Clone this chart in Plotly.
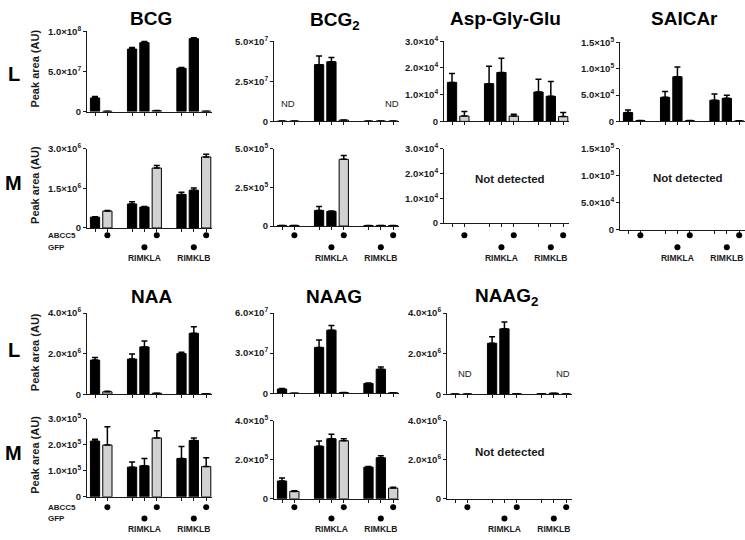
import math
import plotly.graph_objects as go

W, H = 745, 540

# ---------------- data ----------------
slots = [0, 1, 3, 4, 5, 7, 8, 9]          # bar positions (gaps between groups)
abcc5 = [0, 1, 0, 0, 1, 0, 0, 1]          # ABCC5 indicator row
gfp = [0, 0, 0, 1, 0, 0, 1, 0]            # GFP indicator row
group_labels = ["RIMKLA", "RIMKLB"]
group_label_slots = [4, 8]

bcg_L_mean = [1.7e7, 0.05e7, 7.8e7, 8.6e7, 0.12e7, 5.4e7, 9.1e7, 0.06e7]
bcg_L_sd = [0.2e7, 0.0, 0.2e7, 0.15e7, 0.02e7, 0.1e7, 0.1e7, 0.0]
bcg_L_ticks = [0, 5e7, 1e8]

bcg_M_mean = [0.41e6, 0.64e6, 0.91e6, 0.79e6, 2.27e6, 1.27e6, 1.43e6, 2.69e6]
bcg_M_sd = [0.02e6, 0.02e6, 0.08e6, 0.02e6, 0.10e6, 0.08e6, 0.08e6, 0.10e6]
bcg_M_ticks = [0, 1.5e6, 3e6]

bcg2_L_mean = [0.02e7, 0.02e7, 3.54e7, 3.72e7, 0.08e7, 0.02e7, 0.03e7, 0.02e7]
bcg2_L_sd = [0, 0, 0.54e7, 0.26e7, 0.01e7, 0, 0, 0]
bcg2_L_ticks = [0, 2.5e7, 5e7]

bcg2_M_mean = [0.04e5, 0.04e5, 1.01e5, 0.95e5, 4.32e5, 0.03e5, 0.04e5, 0.03e5]
bcg2_M_sd = [0, 0, 0.25e5, 0.02e5, 0.25e5, 0, 0, 0]
bcg2_M_ticks = [0, 2.5e5, 5e5]

agg_L_mean = [1.46e4, 0.20e4, 1.41e4, 1.83e4, 0.20e4, 1.10e4, 0.94e4, 0.18e4]
agg_L_sd = [0.33e4, 0.17e4, 0.65e4, 0.53e4, 0.07e4, 0.48e4, 0.55e4, 0.15e4]
agg_ticks = [0, 1e4, 2e4, 3e4]

saic_L_mean = [0.167e5, 0.015e5, 0.456e5, 0.845e5, 0.015e5, 0.40e5, 0.437e5, 0.01e5]
saic_L_sd = [0.05e5, 0, 0.11e5, 0.185e5, 0, 0.12e5, 0.06e5, 0]
saic_ticks = [0, 5e4, 1e5, 1.5e5]

naa_L_mean = [1.68e6, 0.12e6, 1.73e6, 2.33e6, 0.05e6, 2.0e6, 3.0e6, 0.02e6]
naa_L_sd = [0.13e6, 0.02e6, 0.25e6, 0.29e6, 0, 0.07e6, 0.32e6, 0]
naa_L_ticks = [0, 2e6, 4e6]

naa_M_mean = [2.14e5, 1.99e5, 1.14e5, 1.19e5, 2.26e5, 1.47e5, 2.16e5, 1.16e5]
naa_M_sd = [0.07e5, 0.70e5, 0.20e5, 0.28e5, 0.28e5, 0.46e5, 0.10e5, 0.34e5]
naa_M_ticks = [0, 1e5, 2e5, 3e5]

naag_L_mean = [0.32e7, 0.0, 3.43e7, 4.72e7, 0.05e7, 0.73e7, 1.80e7, 0.03e7]
naag_L_sd = [0.03e7, 0, 0.56e7, 0.35e7, 0, 0.03e7, 0.16e7, 0]
naag_L_ticks = [0, 3e7, 6e7]

naag_M_mean = [0.91e5, 0.38e5, 2.69e5, 3.07e5, 2.97e5, 1.62e5, 2.10e5, 0.55e5]
naag_M_sd = [0.15e5, 0.03e5, 0.27e5, 0.23e5, 0.10e5, 0.03e5, 0.10e5, 0.04e5]
naag_M_ticks = [0, 2e5, 4e5]

naag2_L_mean = [0.01e6, 0.01e6, 2.51e6, 3.22e6, 0.02e6, 0.02e6, 0.05e6, 0.01e6]
naag2_L_sd = [0, 0, 0.32e6, 0.34e6, 0, 0, 0, 0]
naag2_ticks = [0, 2e6, 4e6]

# ---------------- panel layout (pixels) ----------------
AX_W = 125
XR = [-0.65, AX_W / 12.35 - 0.65]

panels = [
    dict(mean=bcg_L_mean, sd=bcg_L_sd, ticks=bcg_L_ticks, x0=87, ytop=25, yzero=107),
    dict(mean=bcg2_L_mean, sd=bcg2_L_sd, ticks=bcg2_L_ticks, x0=274, ytop=35, yzero=117,
         nd=[(0.5, 0.13), (8.9, 0.13)]),
    dict(mean=agg_L_mean, sd=agg_L_sd, ticks=agg_ticks, x0=444, ytop=35, yzero=117),
    dict(mean=saic_L_mean, sd=saic_L_sd, ticks=saic_ticks, x0=620, ytop=36, yzero=117),
    dict(mean=bcg_M_mean, sd=bcg_M_sd, ticks=bcg_M_ticks, x0=87, ytop=145, yzero=226, block=0),
    dict(mean=bcg2_M_mean, sd=bcg2_M_sd, ticks=bcg2_M_ticks, x0=274, ytop=145, yzero=224, block=0),
    dict(mean=None, sd=None, ticks=agg_ticks, x0=444, ytop=145, yzero=221, block=0,
         notdet=(0.53, 0.60)),
    dict(mean=None, sd=None, ticks=saic_ticks, x0=620, ytop=145, yzero=228, block=0,
         notdet=(0.54, 0.64)),
    dict(mean=naa_L_mean, sd=naa_L_sd, ticks=naa_L_ticks, x0=87, ytop=313, yzero=396),
    dict(mean=naag_L_mean, sd=naag_L_sd, ticks=naag_L_ticks, x0=274, ytop=313, yzero=395),
    dict(mean=naag2_L_mean, sd=naag2_L_sd, ticks=naag2_ticks, x0=447, ytop=313, yzero=396,
         nd=[(0.8, 0.16), (8.75, 0.16)]),
    dict(mean=naa_M_mean, sd=naa_M_sd, ticks=naa_M_ticks, x0=87, ytop=421, yzero=501, block=1),
    dict(mean=naag_M_mean, sd=naag_M_sd, ticks=naag_M_ticks, x0=274, ytop=423, yzero=503, block=1),
    dict(mean=None, sd=None, ticks=naag2_ticks, x0=447, ytop=423, yzero=503, block=1,
         notdet=(0.5, 0.6)),
]

# indicator-row helper axes, per block: (top px, row spacing px)
blocks = [(227.35, 12.3), (505.75, 11.5)]

titles = [("BCG", 151, 12), ("BCG<sub>2</sub>", 335, 14), ("Asp-Gly-Glu", 505, 12),
          ("SAICAr", 684, 12), ("NAA", 151, 296), ("NAAG", 334, 296),
          ("NAAG<sub>2</sub>", 506, 297)]
row_labels = [("L", 14, 69), ("M", 14, 180), ("L", 14, 351), ("M", 14, 456)]
ylab_pos = [(35, 63), (35, 182), (35, 353), (35, 458)]
ind_labels = [("ABCC5", 46, 233.5), ("GFP", 46, 246), ("ABCC5", 46, 511.5), ("GFP", 46, 523)]

FONT = "Liberation Sans, Arial, sans-serif"
DARK = "#1a1a1a"


def sci(v):
    if v == 0:
        return "0"
    e = int(math.floor(math.log10(v) + 1e-9))
    m = v / 10 ** e
    return f"{m:.1f}×10<sup>{e}</sup>"


def px2py(p):
    return 1 - p / H


fig = go.Figure()
layout = dict(width=W, height=H, margin=dict(l=0, r=0, t=0, b=0),
              paper_bgcolor="white", plot_bgcolor="rgba(0,0,0,0)",
              showlegend=False, font=dict(family=FONT, color=DARK))
annotations = []

helper_idx = 30
for i, p in enumerate(panels, start=1):
    xn = "xaxis" if i == 1 else f"xaxis{i}"
    yn = "yaxis" if i == 1 else f"yaxis{i}"
    xa, ya = f"x{i}" if i > 1 else "x", f"y{i}" if i > 1 else "y"
    layout[xn] = dict(domain=[p["x0"] / W, min(1.0, (p["x0"] + AX_W) / W)], anchor=ya,
                      range=XR, showgrid=False, zeroline=False, showline=True,
                      linecolor=DARK, linewidth=1, ticks="outside", ticklen=3,
                      tickwidth=1, tickcolor=DARK, tickvals=slots,
                      showticklabels=False, fixedrange=True)
    ymax = p["ticks"][-1]
    layout[yn] = dict(domain=[px2py(p["yzero"]), px2py(p["ytop"])], anchor=xa,
                      range=[0, ymax], showgrid=False, zeroline=False, showline=True,
                      linecolor=DARK, linewidth=1, ticks="outside", ticklen=3,
                      tickwidth=1, tickcolor=DARK, tickvals=p["ticks"],
                      ticktext=[sci(t) for t in p["ticks"]],
                      tickfont=dict(size=9.5, family=FONT, weight="bold", color=DARK),
                      fixedrange=True)
    if p["mean"] is not None:
        colors = ["#d2d2d2" if a else "black" for a in abcc5]
        fig.add_trace(go.Bar(
            x=slots, y=p["mean"], width=0.75, xaxis=xa, yaxis=ya,
            marker=dict(color=colors, line=dict(color="black", width=1)),
            error_y=dict(type="data", symmetric=False, array=p["sd"],
                         arrayminus=[0] * len(slots), color="black",
                         thickness=1.5, width=3),
            hoverinfo="skip"))
    else:
        fig.add_trace(go.Scatter(x=slots, y=[None] * len(slots), xaxis=xa, yaxis=ya,
                                 mode="markers", hoverinfo="skip"))
        fx, fy = p["notdet"]
        annotations.append(dict(text="Not detected", xref=f"{xa} domain", yref=f"{ya} domain",
                                x=fx, y=fy, showarrow=False,
                                font=dict(size=11.5, family=FONT, weight="bold", color=DARK)))
    for (sx, fy) in p.get("nd", []):
        annotations.append(dict(text="ND", xref=xa, yref=f"{ya} domain", x=sx, y=fy,
                                showarrow=False,
                                font=dict(size=9.5, family=FONT, color=DARK)))
    if "block" in p:
        top, s = blocks[p["block"]]
        helper_idx += 1
        hy = f"y{helper_idx}"
        layout[f"yaxis{helper_idx}"] = dict(
            domain=[px2py(top + 2.9 * s), px2py(top)], anchor=xa, range=[3.4, 0.5],
            visible=False, fixedrange=True)
        fig.add_trace(go.Scatter(
            x=[s_ for s_, a in zip(slots, abcc5) if a], y=[1] * sum(abcc5),
            xaxis=xa, yaxis=hy, mode="markers", cliponaxis=False,
            marker=dict(color="black", size=6), hoverinfo="skip"))
        fig.add_trace(go.Scatter(
            x=[s_ for s_, g in zip(slots, gfp) if g], y=[2] * sum(gfp),
            xaxis=xa, yaxis=hy, mode="markers", cliponaxis=False,
            marker=dict(color="black", size=6), hoverinfo="skip"))
        fig.add_trace(go.Scatter(
            x=group_label_slots, y=[3] * len(group_labels), text=group_labels,
            xaxis=xa, yaxis=hy, mode="text", cliponaxis=False,
            textfont=dict(size=8.5, family=FONT, weight="bold", color=DARK),
            hoverinfo="skip"))

for t, x, y in titles:
    annotations.append(dict(text=t, xref="paper", yref="paper", x=x / W, y=px2py(y),
                            showarrow=False, xanchor="center", yanchor="middle",
                            font=dict(size=19, family=FONT, weight="bold", color="black")))
for t, x, y in row_labels:
    annotations.append(dict(text=t, xref="paper", yref="paper", x=x / W, y=px2py(y),
                            showarrow=False, xanchor="center", yanchor="middle",
                            font=dict(size=20, family=FONT, weight="bold", color="black")))
for x, y in ylab_pos:
    annotations.append(dict(text="Peak area (AU)", xref="paper", yref="paper",
                            x=x / W, y=px2py(y), textangle=-90, showarrow=False,
                            xanchor="center", yanchor="middle",
                            font=dict(size=11, family=FONT, weight="bold", color=DARK)))
for t, x, y in ind_labels:
    annotations.append(dict(text=t, xref="paper", yref="paper", x=x / W, y=px2py(y),
                            showarrow=False, xanchor="left", yanchor="middle",
                            font=dict(size=8, family=FONT, weight="bold", color=DARK)))

layout["annotations"] = annotations
fig.update_layout(**layout)
fig.write_html("out.html", config={"displayModeBar": False},
               post_script="document.body.style.margin='0';"
                           "document.body.style.overflow='hidden';")
